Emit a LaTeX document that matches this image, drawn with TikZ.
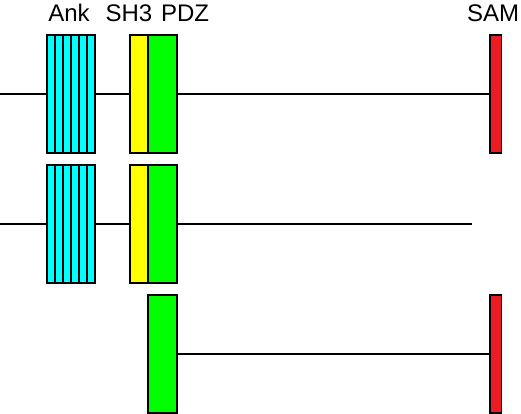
\documentclass[tikz,border=0pt]{standalone}
\usepackage{fontspec}
\setmainfont{Liberation Sans}

\definecolor{ankcol}{RGB}{0,255,255}
\definecolor{shcol}{RGB}{255,255,0}
\definecolor{pdzcol}{RGB}{0,255,0}
\definecolor{samcol}{RGB}{237,28,36}

\tikzset{
	protbox/.style={draw, line width=1.6pt, inner sep=0pt, outer sep=0pt, minimum height=118pt},
	chain/.style={line width=1.6pt}
}

\begin{document}
\begin{tikzpicture}[x=1pt, y=-1pt]
		\tikzstyle{every node}=[font=\fontsize{24pt}{28pt}\selectfont]
		\useasboundingbox (0,0) rectangle (521,414);
		
		% labels
		\node[anchor=base] (lank) at (69,22) {Ank};
		\node[anchor=base] (lsh) at (129,22) {SH3};
		\node[anchor=base] (lpdz) at (185,22) {PDZ};
		\node[anchor=base] (lsam) at (493,22) {SAM};
		
		% row 1
		\node[protbox, fill=ankcol, minimum width=48pt] (ank1) at (71,94) {};
		\node[protbox, fill=shcol, minimum width=18pt] (sh1) at (139,94) {};
		\node[protbox, fill=pdzcol, minimum width=29pt] (pdz1) at (162.5,94) {};
		\node[protbox, fill=samcol, minimum width=11.5pt] (sam1) at (495.75,94) {};
		\coordinate (start1) at (0,94);
		\draw[chain] (start1) -- (ank1.west);
		\draw[chain] (ank1.east) -- (sh1.west);
		\draw[chain] (pdz1.east) -- (sam1.west);
		
		% row 2
		\node[protbox, fill=ankcol, minimum width=48pt] (ank2) at (71,224) {};
		\node[protbox, fill=shcol, minimum width=18pt] (sh2) at (139,224) {};
		\node[protbox, fill=pdzcol, minimum width=29pt] (pdz2) at (162.5,224) {};
		\coordinate (start2) at (0,224);
		\coordinate (end2) at (472,224);
		\draw[chain] (start2) -- (ank2.west);
		\draw[chain] (ank2.east) -- (sh2.west);
		\draw[chain] (pdz2.east) -- (end2);
		
		% ankyrin repeats
		\foreach \r in {ank1,ank2}
			\foreach \i in {1,...,5}
				\draw[chain] ([xshift=\i*8pt]\r.north west) -- ([xshift=\i*8pt]\r.south west);
		
		% row 3
		\node[protbox, fill=pdzcol, minimum width=29pt] (pdz3) at (162.5,354) {};
		\node[protbox, fill=samcol, minimum width=11.5pt] (sam3) at (495.75,354) {};
		\draw[chain] (pdz3.east) -- (sam3.west);
		
\end{tikzpicture}
\end{document}
